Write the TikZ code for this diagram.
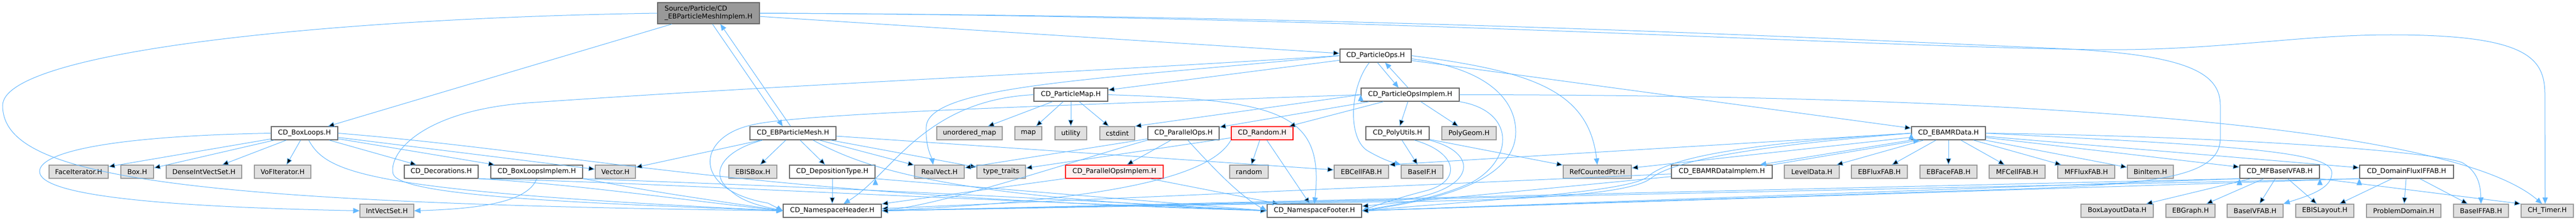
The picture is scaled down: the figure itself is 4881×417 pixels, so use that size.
\documentclass[tikz,border=0pt]{standalone}
\usepackage{fontspec}
\setmainfont{DejaVu Sans}
\usetikzlibrary{arrows.meta}
\definecolor{edgeblue}{HTML}{63B8FF}
\definecolor{boxline}{HTML}{666666}
\definecolor{sysline}{HTML}{999999}
\definecolor{sysfill}{HTML}{E0E0E0}
\definecolor{redfill}{HTML}{FFF0F0}

\begin{document}
\begin{tikzpicture}[x=0.5pt, y=-0.5pt,
  hfile/.style={draw=boxline, fill=white, line width=0.7pt, rectangle, inner sep=0pt,
    minimum height=12.5pt, font=\fontsize{6.4}{7.5}\selectfont},
  sysfile/.style={hfile, draw=sysline, fill=sysfill},
  redfile/.style={hfile, draw=red, fill=redfill},
  dep/.style={draw=edgeblue, line width=0.5pt, -{Triangle[length=6pt, width=5pt]}}]
  \path[use as bounding box, fill=white] (0,0) rectangle (4881,417);

  % upper part
  \node[hfile, fill=sysline, minimum width=96.5pt, minimum height=20pt, align=left] (rootFile) at (1342.5,25) {Source/Particle/CD\\\_EBParticleMeshImplem.H};
  \node[hfile, minimum width=67.5pt] (particleOps) at (2606.5,105.5) {CD\_ParticleOps.H};
  \node[hfile, minimum width=70pt] (particleMap) at (2029,179.5) {CD\_ParticleMap.H};
  \node[hfile, minimum width=93pt] (particleOpsImplem) at (2672,179.5) {CD\_ParticleOpsImplem.H};

  % third row
  \node[hfile, minimum width=63pt] (boxLoops) at (577,252.5) {CD\_BoxLoops.H};
  \node[hfile, minimum width=81.5pt] (ebParticleMesh) at (1502.5,252.5) {CD\_EBParticleMesh.H};
  \node[sysfile, minimum width=62pt] (unorderedMap) at (1837,252.5) {unordered\_map};
  \node[sysfile, minimum width=25.5pt] (mapH) at (1948.5,252.5) {map};
  \node[sysfile, minimum width=30pt] (utilityH) at (2029,252.5) {utility};
  \node[sysfile, minimum width=33pt] (cstdintH) at (2117,252.5) {cstdint};
  \node[hfile, minimum width=67.5pt] (parallelOps) at (2242.5,252.5) {CD\_ParallelOps.H};
  \node[redfile, minimum width=58.5pt] (randomCD) at (2391.5,252.5) {CD\_Random.H};
  \node[hfile, minimum width=60pt] (polyUtils) at (2648,252.5) {CD\_PolyUtils.H};
  \node[sysfile, minimum width=51.5pt] (polyGeom) at (2783.5,252.5) {PolyGeom.H};
  \node[hfile, minimum width=70pt] (ebamrData) at (3692,252.5) {CD\_EBAMRData.H};

  % fourth row
  \node[sysfile, minimum width=56pt] (faceIterator) at (149,325.5) {FaceIterator.H};
  \node[sysfile, minimum width=31pt] (boxH) at (260,325.5) {Box.H};
  \node[sysfile, minimum width=71.5pt] (denseIVS) at (386.5,325.5) {DenseIntVectSet.H};
  \node[sysfile, minimum width=53.5pt] (vofIterator) at (535.5,325.5) {VoFIterator.H};
  \node[hfile, minimum width=70pt] (decorations) at (836,325.5) {CD\_Decorations.H};
  \node[hfile, minimum width=87pt] (boxLoopsImplem) at (1017,325.5) {CD\_BoxLoopsImplem.H};
  \node[sysfile, minimum width=38pt] (vectorH) at (1166,325.5) {Vector.H};
  \node[sysfile, minimum width=45.5pt] (ebisBox) at (1426.5,325.5) {EBISBox.H};
  \node[hfile, minimum width=81pt] (depositionType) at (1577,325.5) {CD\_DepositionType.H};
  \node[sysfile, minimum width=47pt] (realVect) at (1780,325.5) {RealVect.H};
  \node[sysfile, minimum width=46pt] (typeTraits) at (1897,325.5) {type\_traits};
  \node[redfile, minimum width=92.5pt] (parallelOpsImplem) at (2111.5,325.5) {CD\_ParallelOpsImplem.H};
  \node[sysfile, minimum width=36.5pt] (randomH) at (2366.5,325.5) {random};
  \node[sysfile, minimum width=51.5pt] (ebCellFAB) at (2579.5,325.5) {EBCellFAB.H};
  \node[sysfile, minimum width=39.5pt] (baseIF) at (2694.5,325.5) {BaseIF.H};
  \node[sysfile, minimum width=64.5pt] (refCountedPtr) at (3026.5,325.5) {RefCountedPtr.H};
  \node[hfile, minimum width=95.5pt] (ebamrDataImplem) at (3262.5,325.5) {CD\_EBAMRDataImplem.H};
  \node[sysfile, minimum width=52pt] (levelData) at (3433,325.5) {LevelData.H};
  \node[sysfile, minimum width=53pt] (ebFluxFAB) at (3561,325.5) {EBFluxFAB.H};
  \node[sysfile, minimum width=54pt] (ebFaceFAB) at (3692,325.5) {EBFaceFAB.H};
  \node[sysfile, minimum width=53pt] (mfCellFAB) at (3822,325.5) {MFCellFAB.H};
  \node[sysfile, minimum width=54pt] (mfFluxFAB) at (3953,325.5) {MFFluxFAB.H};
  \node[sysfile, minimum width=43.5pt] (binItem) at (4074.5,325.5) {BinItem.H};
  \node[hfile, minimum width=75.5pt] (mfBaseIVFAB) at (4319.5,325.5) {CD\_MFBaseIVFAB.H};
  \node[hfile, minimum width=89pt] (domainFluxIFFAB) at (4560,325.5) {CD\_DomainFluxIFFAB.H};

  % bottom row
  \node[sysfile, minimum width=51pt] (intVectSet) at (733,399.5) {IntVectSet.H};
  \node[hfile, minimum width=93pt] (nsHeader) at (1577,399.5) {CD\_NamespaceHeader.H};
  \node[hfile, minimum width=89.5pt] (nsFooter) at (2490.5,399.5) {CD\_NamespaceFooter.H};
  \node[sysfile, minimum width=68.5pt] (boxLayoutData) at (4011.5,399.5) {BoxLayoutData.H};
  \node[sysfile, minimum width=46.5pt] (ebGraph) at (4150.5,399.5) {EBGraph.H};
  \node[sysfile, minimum width=53pt] (baseIVFAB) at (4273,399.5) {BaseIVFAB.H};
  \node[sysfile, minimum width=55pt] (ebisLayout) at (4405,399.5) {EBISLayout.H};
  \node[sysfile, minimum width=70.5pt] (problemDomain) at (4554.5,399.5) {ProblemDomain.H};
  \node[sysfile, minimum width=52pt] (baseIFFAB) at (4701,399.5) {BaseIFFAB.H};
  \node[sysfile, minimum width=49.5pt] (chTimer) at (4826.5,399.5) {CH\_Timer.H};

  % root file
  \draw[dep] ([xshift=3.75pt]rootFile.south) -- ([xshift=-9.75pt]ebParticleMesh.north);
  \draw[dep] ([xshift=-2.25pt]ebParticleMesh.north) -- ([xshift=11.25pt]rootFile.south);
  \path[dep] (rootFile) edge (boxLoops);
  \path[dep] (rootFile) edge (particleOps);
  \draw[dep] (rootFile.west) .. controls (600,35) and (5,100) .. (5,200) .. controls (5,330) and (300,385) .. (nsHeader.west);
  \draw[dep] (rootFile.east) .. controls (2600,30) and (3400,70) .. (3900,92) .. controls (4150,103) and (4207,140) .. (4207,200) -- (4207,262) .. controls (4207,345) and (4050,352) .. (3700,362) -- (nsFooter.east);
  \draw[dep] (rootFile.east) .. controls (2600,30) and (3500,88) .. (3967,94) .. controls (4200,97) and (4350,66) .. (4530,66) .. controls (4790,66) and (4822,110) .. (4822,180) -- ([xshift=-2pt]chTimer.north);

  % box loops
  \path[dep] (boxLoops) edge (faceIterator);
  \path[dep] (boxLoops) edge (boxH);
  \path[dep] (boxLoops) edge (denseIVS);
  \path[dep] (boxLoops) edge (vofIterator);
  \path[dep] (boxLoops) edge (decorations);
  \path[dep] (boxLoops) edge (boxLoopsImplem);
  \path[dep] (boxLoops) edge (vectorH);
  \draw[dep] (boxLoops.west) .. controls (200,258) and (75,290) .. (75,325) .. controls (75,370) and (300,392) .. (intVectSet.west);
  \draw[dep] ([xshift=4pt]boxLoops.south) .. controls (620,330) and (700,362) .. (nsHeader.west);
  \draw[dep] (boxLoops.east) .. controls (1100,290) and (1400,370) .. (nsFooter.west);
  \draw[dep] (decorations.south east) .. controls (1100,350) and (1300,380) .. (nsHeader.west);
  \draw[dep] (decorations.south east) .. controls (1200,345) and (1500,365) .. (nsFooter.west);
  \draw[dep] (boxLoopsImplem.south east) .. controls (1250,365) .. (nsHeader.west);
  \draw[dep] (boxLoopsImplem.south east) .. controls (1400,350) and (1700,360) .. (nsFooter.west);
  \draw[dep] (boxLoopsImplem.south) .. controls (1000,385) and (900,396) .. (intVectSet.east);

  % particle mesh
  \path[dep] (ebParticleMesh) edge (ebisBox);
  \path[dep] (ebParticleMesh) edge (depositionType);
  \path[dep] (ebParticleMesh) edge (realVect);
  \path[dep] (ebParticleMesh) edge (typeTraits);
  \path[dep] (ebParticleMesh) edge (vectorH);
  \path[dep] (ebParticleMesh) edge (ebCellFAB);
  \draw[dep] ([xshift=-28.75pt]ebParticleMesh.south) .. controls (1370,285) and (1340,330) .. (1385,362) .. controls (1410,385) and (1450,392) .. (nsHeader.west);
  \draw[dep] ([xshift=19pt]ebParticleMesh.south) .. controls (1640,320) and (1800,375) .. (nsFooter.west);
  \path[dep] (depositionType) edge (nsHeader);
  \path[dep] (depositionType.south east) edge (nsFooter.west);

  % particle map
  \path[dep] (particleMap) edge (mapH);
  \path[dep] (particleMap) edge (utilityH);
  \path[dep] (particleMap) edge (cstdintH);
  \path[dep] (particleMap) edge (unorderedMap);
  \draw[dep] (particleMap.west) .. controls (1750,190) and (1690,330) .. (nsHeader);
  \draw[dep] (particleMap.east) .. controls (2420,190) and (2510,210) .. (nsFooter.north);

  % particle ops
  \path[dep] (particleOps) edge (particleMap);
  \draw[dep] ([xshift=1.75pt]particleOps.south) -- ([xshift=-11pt]particleOpsImplem.north);
  \draw[dep] ([xshift=-2pt]particleOpsImplem.north) -- ([xshift=9pt]particleOps.south);
  \draw[dep] ([xshift=-6pt]particleOps.south) .. controls (2558,165) and (2553,260) .. (2590,285) .. controls (2615,300) and (2635,307) .. (baseIF.north west);
  \draw[dep] (particleOps.east) .. controls (2900,135) and (3010,170) .. (refCountedPtr.north);
  \path[dep] (particleOps) edge (ebamrData);
  \draw[dep] (particleOps.west) .. controls (2100,150) and (1760,160) .. (1755,240) .. controls (1753,280) and (1766,300) .. ([xshift=-6pt]realVect.north);
  \draw[dep] (particleOps.west) .. controls (2000,140) and (1500,160) .. (1000,195) .. controls (800,210) and (735,290) .. (745,330) .. controls (760,372) and (1100,385) .. (nsHeader.west);
  \draw[dep] ([yshift=-3pt]particleOps.east) .. controls (2820,130) and (2872,190) .. (2872,250) .. controls (2872,350) and (2700,382) .. (nsFooter.east);

  % particle ops implementation
  \path[dep] (particleOpsImplem) edge (randomCD);
  \path[dep] (particleOpsImplem) edge (parallelOps);
  \path[dep] (particleOpsImplem) edge (polyUtils);
  \path[dep] (particleOpsImplem) edge (polyGeom);
  \path[dep] (particleOpsImplem.west) edge (cstdintH.north east);
  \draw[dep] (particleOpsImplem.east) .. controls (3400,180) and (4600,200) .. ([xshift=-5pt]chTimer.north);
  \draw[dep] (particleOpsImplem.south east) .. controls (2870,210) and (2870,300) .. (2790,345) .. controls (2720,378) and (2640,388) .. (nsFooter.east);
  \draw[dep] (particleOpsImplem.west) .. controls (2000,200) and (1500,215) .. (1420,238) .. controls (1320,262) and (1310,360) .. (1455,385) -- (nsHeader.west);

  % parallel ops and random
  \path[dep] (parallelOps) edge (parallelOpsImplem);
  \path[dep] (parallelOps) edge (realVect);
  \draw[dep] (parallelOps.south west) .. controls (2050,300) and (1800,385) .. (nsHeader.east);
  \draw[dep] ([xshift=4pt]parallelOps.south) .. controls (2300,320) and (2350,372) .. (nsFooter.west);
  \path[dep] (randomCD) edge (randomH);
  \path[dep] (randomCD) edge (nsFooter);
  \path[dep] (randomCD) edge (typeTraits);
  \draw[dep] (randomCD.south west) .. controls (2280,360) and (1950,385) .. (nsHeader.east);
  \path[dep] (parallelOpsImplem) edge (nsHeader);
  \path[dep] (parallelOpsImplem) edge (nsFooter);

  % poly utils
  \path[dep] (polyUtils) edge (baseIF);
  \path[dep] (polyUtils) edge (refCountedPtr);
  \draw[dep] ([xshift=16pt]polyUtils.south) .. controls (2765,290) and (2770,345) .. (2700,362) .. controls (2650,375) and (2610,388) .. (nsFooter.east);
  \draw[dep] (polyUtils.south east) .. controls (2805,290) and (2800,362) .. (2650,380) -- (nsHeader.east);

  % ebamr data
  \path[dep] (ebamrData) edge (levelData);
  \path[dep] (ebamrData) edge (ebFluxFAB);
  \path[dep] (ebamrData) edge (ebFaceFAB);
  \path[dep] (ebamrData) edge (mfCellFAB);
  \path[dep] (ebamrData) edge (mfFluxFAB);
  \path[dep] (ebamrData) edge (binItem);
  \path[dep] (ebamrData) edge (mfBaseIVFAB);
  \path[dep] (ebamrData) edge (domainFluxIFFAB);
  \path[dep] (ebamrData.west) edge (ebCellFAB.north east);
  \path[dep] (ebamrData) edge (refCountedPtr);
  \draw[dep] (ebamrData.south west) -- ([xshift=-12pt]ebamrDataImplem.north east);
  \draw[dep] (ebamrDataImplem.north east) -- ([xshift=8pt]ebamrData.south west);
  \draw[dep] (ebamrData.east) .. controls (4200,258) and (4600,285) .. (4665,308) .. controls (4695,325) and (4700,350) .. (baseIFFAB.north);
  \draw[dep] (ebamrData.east) .. controls (4200,275) and (4412,285) .. (4418,325) .. controls (4422,358) and (4370,372) .. (baseIVFAB.north east);
  \draw[dep] (ebamrData.west) .. controls (3300,272) and (3160,300) .. (3122,335) .. controls (3085,365) and (2800,380) .. (nsFooter.east);
  \draw[dep] (ebamrData.west) .. controls (3310,278) and (3170,305) .. (3128,338) .. controls (3090,368) and (2900,380) .. (2600,383) -- (nsHeader.east);
  \path[dep] (ebamrDataImplem) edge (nsHeader);
  \path[dep] (ebamrDataImplem) edge (nsFooter);

  % mf base ivfab and domain flux
  \path[dep] (mfBaseIVFAB) edge (boxLayoutData);
  \path[dep] (mfBaseIVFAB) edge (ebGraph);
  \path[dep] (mfBaseIVFAB) edge (baseIVFAB);
  \path[dep] (mfBaseIVFAB) edge (ebisLayout);
  \path[dep] (mfBaseIVFAB.south east) edge (chTimer.north west);
  \path[dep] (mfBaseIVFAB.south west) edge (nsFooter.east);
  \path[dep] (mfBaseIVFAB.south west) edge (nsHeader.east);
  \path[dep] (domainFluxIFFAB) edge (ebisLayout);
  \path[dep] (domainFluxIFFAB) edge (problemDomain);
  \path[dep] (domainFluxIFFAB) edge (baseIFFAB);
  \path[dep] (domainFluxIFFAB.south west) edge (nsHeader.east);
  \path[dep] (domainFluxIFFAB.south west) edge (nsFooter.east);
\end{tikzpicture}
\end{document}
